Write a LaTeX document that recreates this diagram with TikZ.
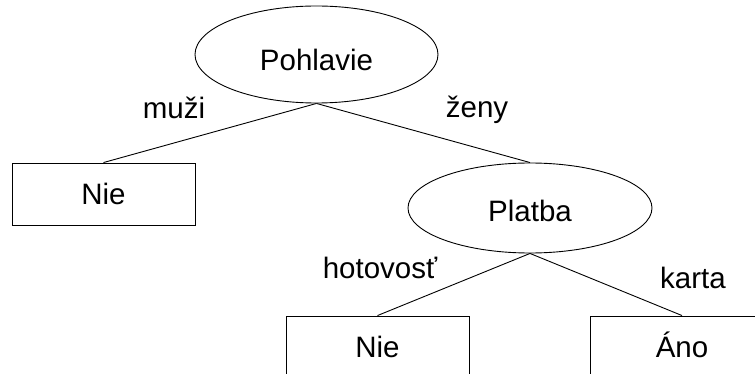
\documentclass[tikz,border=0pt]{standalone}
\usepackage{fontspec}
\setmainfont{Liberation Sans}
\usetikzlibrary{shapes.geometric}
\begin{document}
\begin{tikzpicture}[x=1pt,y=-1pt,
  treeline/.style={line width=0.9pt, draw=black},
  decision/.style={ellipse, draw=black, line width=0.9pt, fill=white, inner sep=0pt,
    font=\fontsize{29.5}{34}\selectfont},
  leaf/.style={rectangle, draw=black, line width=0.9pt, fill=white, inner sep=0pt,
    minimum width=183pt, minimum height=62pt, text height=21pt, text depth=0pt,
    font=\fontsize{29.5}{34}\selectfont},
  edgelabel/.style={anchor=base, inner sep=0pt, font=\fontsize{29.5}{34}\selectfont}]
  \useasboundingbox (0,0) rectangle (755,374);
  \clip (0,0) rectangle (755,374);

  % decision nodes
  \node[decision, minimum width=243pt, minimum height=97pt] (pohlavie) at (316.5,54.5)
    {\raisebox{-5pt}[\height][\depth]{Pohlavie}};
  \node[decision, minimum width=244pt, minimum height=90pt] (platba) at (530,208)
    {\raisebox{-3pt}[\height][\depth]{Platba}};

  % leaves
  \node[leaf] (nieA) at (103.5,194) {Nie};
  \node[leaf] (nieB) at (377.5,347) {Nie};
  \node[leaf] (ano)  at (682,347) {Áno};

  % branches
  \draw[treeline] (pohlavie.south) -- (nieA.north);
  \draw[treeline] (pohlavie.south) -- (platba.north);
  \draw[treeline] (platba.south) -- (nieB.north);
  \draw[treeline] (platba.south) -- (ano.north);

  % branch labels
  \node[edgelabel] (lmuzi) at (174,119) {muži};
  \node[edgelabel] (lzeny) at (477,118) {ženy};
  \node[edgelabel] (lhot)  at (380,278) {hotovosť};
  \node[edgelabel] (lkarta) at (693,288) {karta};
\end{tikzpicture}
\end{document}
